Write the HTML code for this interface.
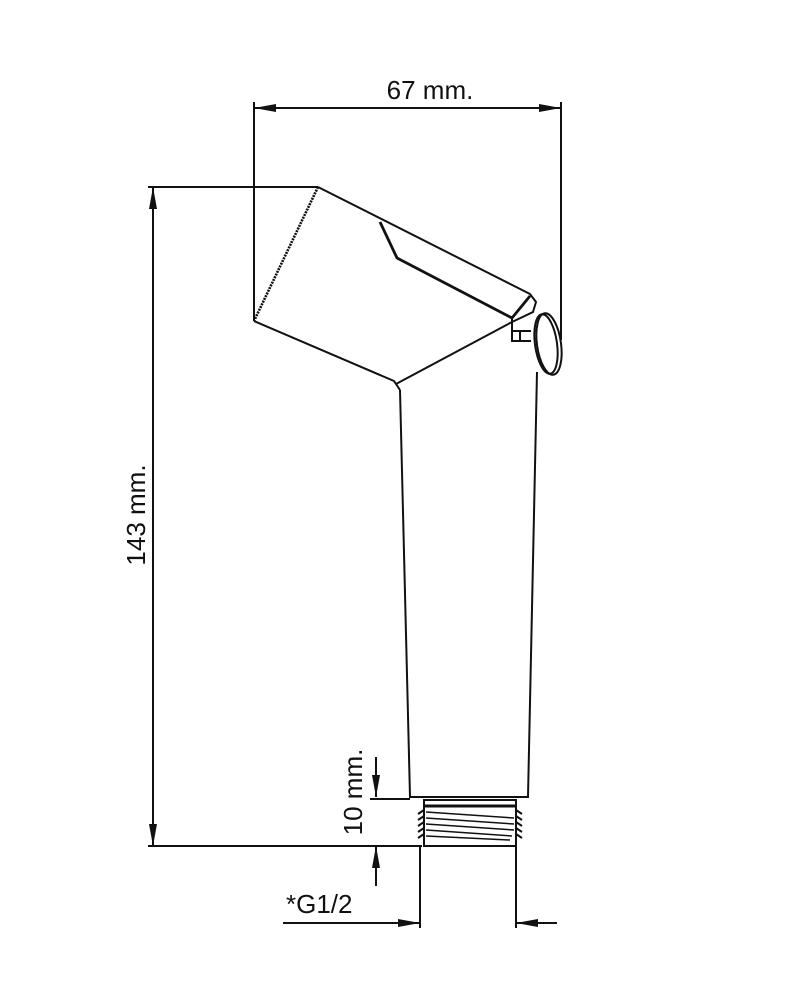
<!DOCTYPE html>
<html><head><meta charset="utf-8"><style>
html,body{margin:0;padding:0;background:#fff}
svg{display:block}
text{font-family:"Liberation Sans",sans-serif;fill:#111;font-weight:normal}
</style></head><body>
<svg width="800" height="985" viewBox="0 0 800 985" xmlns="http://www.w3.org/2000/svg">
<defs>
<marker id="a" viewBox="0 0 22 8" refX="22" refY="4" markerWidth="22" markerHeight="8" markerUnits="userSpaceOnUse" orient="auto-start-reverse"><path d="M0,0 L22,4 L0,8 z" fill="#111"/></marker>
</defs>
<g stroke="#111" stroke-width="2" fill="none">
<line x1="254" y1="108" x2="561" y2="108" marker-start="url(#a)" marker-end="url(#a)"/>
<line x1="254" y1="102" x2="254" y2="321"/>
<line x1="561" y1="102" x2="561" y2="340"/>
<line x1="153" y1="187" x2="153" y2="846" marker-start="url(#a)" marker-end="url(#a)"/>
<line x1="148" y1="187" x2="318" y2="187"/>
<line x1="148" y1="846" x2="422" y2="846"/>
<path d="M318,187 L530,294 L536,302 L533,312 L512,322"/>
<path d="M318,187 L254,321" stroke-width="2.6" stroke-dasharray="2,1"/>
<path d="M254,321 L394,381 L400,390"/>
<path d="M396,384 L512,322"/>
<path d="M380,222 L397,258 L512,318 L530,296" stroke-width="2.8"/>
<path d="M512,318 L512,341 L531,341 M512,331 L531,331 M520,331 L520,341"/>
<ellipse cx="549" cy="344" rx="12" ry="31" transform="rotate(-8 549 344)"/>
<ellipse cx="546" cy="344" rx="11" ry="30" transform="rotate(-8 546 344)"/>
<path d="M400,390 L410,797 L528,797 L537,372"/>
<path d="M424,800 L424,846 L516,846 L516,800 Z"/>
<path d="M424,806 L516,806" stroke-width="3"/>
<path d="M418,814 L424,810 M418,820 L424,816 M418,826 L424,822 M418,832 L424,828 M418,838 L424,834 M516,810 L522,814 M516,816 L522,820 M516,822 L522,826 M516,828 L522,832 M516,834 L522,838"/>
<path d="M426,812 L514,818 M426,818 L514,824 M426,824 L514,830 M426,830 L512,836 M426,836 L510,840" stroke-width="1.5"/>
<line x1="376" y1="757" x2="376" y2="797" marker-end="url(#a)"/>
<line x1="376" y1="886" x2="376" y2="846" marker-end="url(#a)"/>
<line x1="370" y1="799" x2="410" y2="799"/>
<line x1="283" y1="923" x2="420" y2="923" marker-end="url(#a)"/>
<line x1="557" y1="923" x2="516" y2="923" marker-end="url(#a)"/>
<line x1="420" y1="846" x2="420" y2="928"/>
<line x1="516" y1="836" x2="516" y2="928"/>
</g>
<text x="430" y="99" font-size="26" text-anchor="middle">67 mm.</text>
<text transform="translate(145,515) rotate(-90)" font-size="26" text-anchor="middle">143 mm.</text>
<text transform="translate(362,792) rotate(-90)" font-size="26" text-anchor="middle">10 mm.</text>
<text x="286" y="913" font-size="26">*G1/2</text>
</svg>
</body></html>
